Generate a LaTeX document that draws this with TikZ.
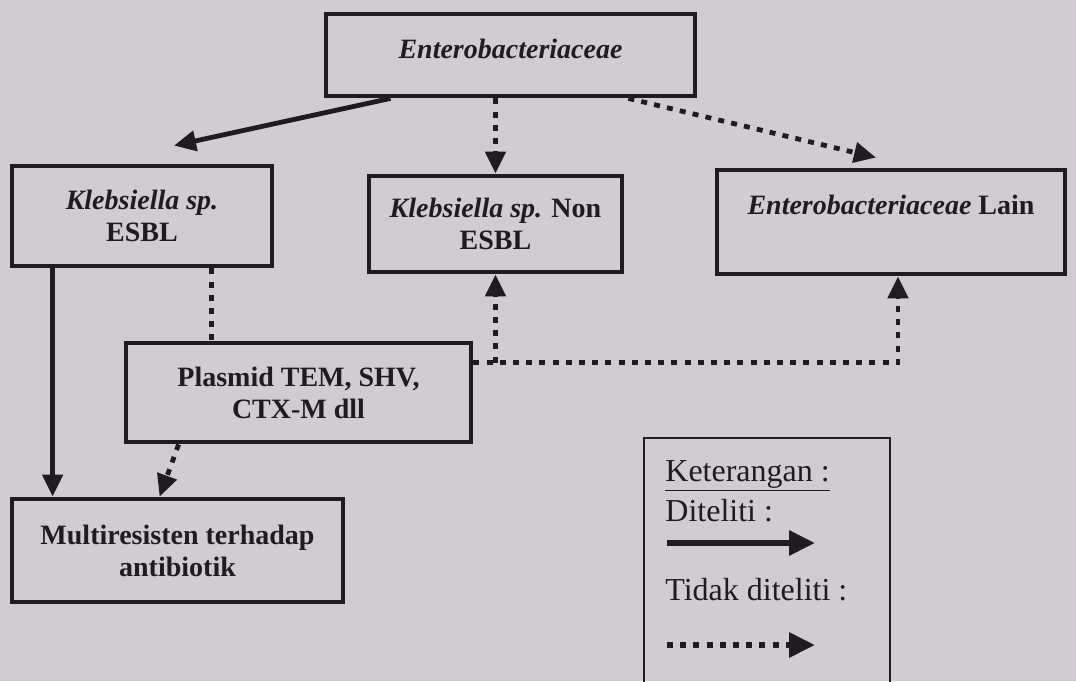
\documentclass[tikz,border=0pt]{standalone}
\usepackage{fontspec}
\setmainfont{Liberation Serif}
\usetikzlibrary{arrows.meta,calc}
\definecolor{kbPaper}{RGB}{208,204,209}
\definecolor{kbInk}{RGB}{30,28,31}

\begin{document}
\begin{tikzpicture}[x=0.5pt,y=-0.5pt,
      box/.style={draw=kbInk,line width=2.4pt,align=center,inner sep=2pt,text=kbInk,font=\fontsize{14}{16}\selectfont\bfseries},
      solidarr/.style={-{Triangle[length=11pt,width=10pt]},line width=2.4pt,draw=kbInk},
      dotarr/.style={solidarr,dash pattern=on 3pt off 3.6pt},
      dotline/.style={line width=2.4pt,draw=kbInk,dash pattern=on 3pt off 3.6pt},
      legtext/.style={anchor=base west,inner sep=0pt,text=kbInk,font=\fontsize{16}{19}\selectfont}
    ]
    \useasboundingbox (0,0) rectangle (1076,681);
    \fill[kbPaper] (0,0) rectangle (1076,681);

    \node[box,minimum width=184.5pt,minimum height=41pt,text height=10pt,text depth=7pt] (ent) at (510.5,55) {\textit{Enterobacteriaceae}};
    \node[box,minimum width=130pt,minimum height=50pt] (kesbl) at (142,216) {\textit{Klebsiella sp.}\\ESBL};
    \node[box,minimum width=126.5pt,minimum height=48pt] (knon) at (495.5,224) {\textit{Klebsiella sp.} Non\\ESBL};
    \node[box,minimum width=174pt,minimum height=52pt,text height=10pt,text depth=18pt] (lain) at (891,222) {\textit{Enterobacteriaceae} Lain};
    \node[box,minimum width=172.5pt,minimum height=49.5pt] (plas) at (298.5,392.5) {Plasmid TEM, SHV,\\CTX-M dll};
    \node[box,minimum width=165.5pt,minimum height=51.5pt] (multi) at (177.5,550.5) {Multiresisten terhadap\\antibiotik};

    % diteliti
    \draw[solidarr] ([xshift=-60pt]ent.south) -- ([xshift=16pt,yshift=9pt]kesbl.north);
    \draw[solidarr] ([xshift=21.5pt]kesbl.south west) -- ([xshift=21.5pt]multi.north west);

    % tidak diteliti
    \draw[dotarr] (ent.south -| knon.north) -- (knon.north);
    \draw[dotarr] ([xshift=-34.5pt]ent.south east) -- ([xshift=-7.5pt,yshift=5pt]lain.north);
    \coordinate (kp) at ([xshift=101pt]kesbl.south west);
    \draw[dotline] (kp) -- (kp |- plas.north);
    \coordinate (bus) at ([yshift=15pt]plas.east);
    \draw[dotarr] (bus) -| ([xshift=3.5pt]lain.south);
    \draw[dotarr] (bus -| knon.south) -- (knon.south);
    \draw[dotarr] ([xshift=27.5pt]plas.south west) -- ([xshift=75pt]multi.north west);

    % keterangan
    \node[draw=kbInk,line width=1pt,minimum width=123pt,minimum height=140pt,anchor=north west,inner sep=0pt] (leg) at (643,437) {};
    \node[legtext] (ket) at (665,481) {\underline{Keterangan :}};
    \node[legtext] (dit) at (665,521) {Diteliti :};
    \node[legtext] (tdk) at (665,600) {Tidak diteliti :};
    \coordinate (s0) at (667,543);
    \coordinate (s1) at (815,543);
    \coordinate (d0) at (667,645);
    \coordinate (d1) at (815,645);
    \draw[line width=3pt,draw=kbInk,-{Triangle[length=13pt,width=12pt]}] (s0) -- (s1);
    \draw[line width=3pt,draw=kbInk,dash pattern=on 3pt off 3.6pt,-{Triangle[length=13pt,width=12pt]}] (d0) -- (d1);
  \end{tikzpicture}
\end{document}
